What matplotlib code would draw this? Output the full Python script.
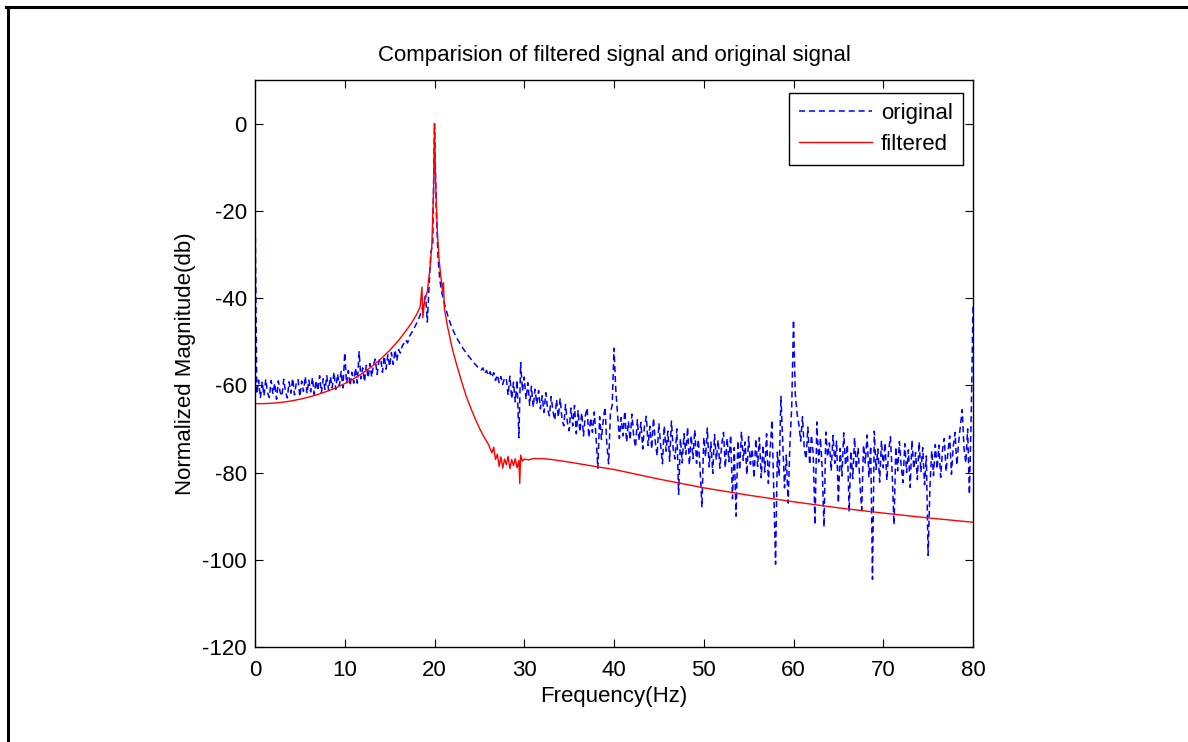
import matplotlib.pyplot as plt
import numpy as np
from matplotlib.lines import Line2D

plt.rcParams["font.family"] = ["Liberation Sans", "DejaVu Sans"]
plt.rcParams["axes.unicode_minus"] = False

title = "Comparision of filtered signal and original signal"
x_label = "Frequency(Hz)"
y_label = "Normalized Magnitude(db)"
x_ticks = [0, 10, 20, 30, 40, 50, 60, 70, 80]
y_ticks = [-120, -100, -80, -60, -40, -20, 0]

# original spectrum, every 0.2 Hz (0 .. 80 Hz)
orig_freq = np.linspace(0, 80, 401)
orig_db = [
    # 0.0 - 3.8
    -17.0, -62.0, -58.8, -62.9, -59.3, -62.4, -58.6, -61.7, -62.8, -58.9,
    -62.0, -59.5, -63.2, -59.0, -61.6, -62.5, -58.6, -61.5, -62.9, -59.2,
    # 4.0 - 7.8
    -61.8, -58.4, -62.2, -59.5, -58.7, -62.6, -59.0, -61.4, -58.0, -61.9,
    -58.8, -61.5, -58.2, -62.1, -58.9, -61.2, -57.8, -61.7, -58.5, -61.0,
    # 8.0 - 11.8
    -57.8, -61.2, -58.0, -60.6, -57.0, -60.9, -57.4, -60.1, -56.8, -60.6,
    -52.5, -59.6, -56.6, -60.1, -57.0, -59.5, -56.0, -59.5, -52.3, -58.5,
    # 12.0 - 15.8
    -56.0, -59.2, -55.4, -58.3, -55.0, -58.1, -55.2, -54.0, -57.5, -54.5,
    -53.8, -57.0, -53.3, -56.3, -53.0, -55.7, -52.5, -55.2, -51.9, -54.4,
    # 16.0 - 19.8
    -51.8, -52.6, -51.0, -50.4, -49.6, -50.3, -48.8, -48.1, -47.5, -46.6,
    -45.8, -44.9, -43.9, -42.6, -41.2, -39.5, -45.5, -37.0, -29.5, -27.5,
    # 20.0 - 23.8
    0.0, -20.0, -31.0, -36.0, -38.5, -40.5, -42.0, -43.5, -44.8, -46.0,
    -47.0, -48.0, -48.8, -49.6, -50.3, -51.0, -51.6, -52.2, -52.8, -53.3,
    # 24.0 - 27.8
    -53.8, -54.4, -54.9, -55.3, -55.8, -56.2, -56.5, -56.0, -57.3, -56.6,
    -57.8, -56.9, -58.2, -57.1, -58.9, -57.6, -59.4, -58.0, -59.8, -58.3,
    # 28.0 - 31.8
    -58.4, -62.3, -57.9, -63.1, -59.3, -63.8, -58.8, -72.0, -54.8, -61.3,
    -58.1, -63.2, -59.4, -64.6, -60.2, -65.0, -60.9, -64.3, -61.2, -65.4,
    # 32.0 - 35.8
    -62.4, -66.2, -61.7, -65.4, -67.0, -62.6, -66.0, -68.0, -63.3, -67.3,
    -63.0, -67.7, -69.3, -64.4, -68.4, -70.4, -65.2, -69.3, -64.6, -71.1,
    # 36.0 - 39.8
    -65.8, -70.7, -66.3, -71.6, -67.0, -65.2, -72.0, -67.5, -70.8, -66.1,
    -71.9, -79.0, -67.2, -72.4, -68.0, -65.0, -73.5, -78.0, -66.3, -64.5,
    # 40.0 - 43.8
    -51.5, -61.0, -66.8, -72.2, -67.4, -71.6, -65.9, -73.0, -68.3, -72.5,
    -66.6, -71.8, -74.2, -67.9, -72.7, -68.5, -74.6, -69.2, -67.1, -73.8,
    # 44.0 - 47.8
    -69.4, -74.6, -67.5, -72.9, -76.2, -68.7, -73.8, -78.0, -69.3, -75.1,
    -70.5, -77.4, -68.2, -74.8, -76.9, -70.0, -85.0, -72.2, -77.8, -71.1,
    # 48.0 - 51.8
    -75.8, -69.6, -78.3, -71.5, -76.8, -70.2, -77.9, -72.4, -79.6, -88.0,
    -71.9, -76.4, -69.8, -78.7, -73.0, -80.2, -71.3, -77.1, -72.5, -79.0,
    # 52.0 - 55.8
    -73.6, -70.8, -78.9, -72.1, -77.5, -71.4, -86.0, -74.3, -90.0, -72.7,
    -79.4, -70.6, -77.2, -73.0, -80.5, -71.8, -78.1, -74.6, -81.3, -72.3,
    # 56.0 - 59.8
    -78.6, -72.0, -81.2, -73.7, -79.9, -71.1, -82.5, -74.8, -68.0, -84.0,
    -101.0, -75.3, -80.8, -62.5, -72.9, -83.5, -76.0, -87.0, -73.5, -65.0,
    # 60.0 - 63.8
    -45.0, -62.0, -66.5, -69.0, -72.8, -67.2, -74.5, -76.9, -69.6, -78.2,
    -71.4, -75.8, -92.0, -68.4, -77.6, -72.1, -79.3, -92.5, -70.7, -76.4,
    # 64.0 - 67.8
    -73.2, -79.6, -71.5, -77.9, -72.8, -87.0, -74.5, -80.8, -70.9, -78.4,
    -73.6, -89.0, -75.1, -81.4, -72.0, -79.2, -74.3, -82.6, -88.5, -73.7,
    # 68.0 - 71.8
    -77.8, -71.4, -81.1, -73.9, -104.5, -70.5, -79.3, -74.6, -82.2, -72.7,
    -78.9, -73.2, -81.8, -75.0, -71.8, -80.4, -92.0, -74.1, -79.6, -72.9,
    # 72.0 - 75.8
    -78.5, -82.3, -73.4, -80.0, -74.8, -83.4, -72.6, -79.1, -75.4, -81.6,
    -73.0, -79.9, -74.3, -82.8, -76.2, -99.0, -83.5, -75.0, -80.7, -73.6,
    # 76.0 - 79.8
    -79.2, -73.7, -81.1, -74.9, -72.2, -79.8, -75.5, -71.6, -80.4, -74.0,
    -70.8, -78.3, -73.1, -69.2, -65.6, -74.5, -77.8, -70.0, -85.0, -67.0,
    # 80.0
    -42.0,
]

# filtered spectrum
filt_freq = [
    0, 1, 2, 3, 4, 5, 6, 7, 8, 9, 10, 11, 12, 13, 14, 15, 16, 17, 17.5, 18,
    18.4, 18.6, 18.7, 18.9, 19.2, 19.5, 19.7, 19.9, 20.0, 20.1, 20.3, 20.5,
    20.7, 20.9, 21.0, 21.1, 21.5, 22, 22.5, 23, 23.5, 24, 24.5, 25, 25.5, 26,
    26.4, 26.6, 26.8, 27.0, 27.2, 27.4, 27.6, 27.8, 28.0, 28.2, 28.4, 28.6,
    28.8, 29.0, 29.2, 29.4, 29.5, 29.6, 29.8, 30.0, 30.5, 31, 32, 33, 34, 35,
    37, 40, 45, 50, 55, 60, 65, 70, 75, 80,
]
filt_db = [
    -64.2, -64.2, -64.1, -63.9, -63.6, -63.2, -62.7, -62.1, -61.4, -60.6,
    -59.6, -58.5, -57.2, -55.7, -54.0, -52.0, -49.7, -47.0, -45.5, -43.8,
    -42.0, -37.5, -44.5, -40.5, -38.5, -33.0, -28.0, -15.0, 0.0, -12.0,
    -24.0, -31.0, -35.0, -38.5, -36.5, -42.5, -47.0, -51.8, -55.5, -59.0,
    -62.3, -65.0, -67.5, -69.8, -71.8, -73.5,
    -75.5, -74.2, -77.0, -75.8, -78.6, -76.4, -79.0, -76.9, -78.2, -76.3,
    -79.1, -77.0, -78.4, -76.8, -78.9, -77.2, -82.5, -76.0, -77.4, -76.9,
    -77.1, -76.8, -76.8, -77.0, -77.3, -77.6,
    -78.3, -79.3, -81.5, -83.5, -85.2, -86.7, -88.1, -89.3, -90.4, -91.4,
]

fig = plt.figure(figsize=(11.88, 7.42), dpi=100)
ax = fig.add_axes([255 / 1188, 1 - 647 / 742, 718 / 1188, 567 / 742])

ax.plot(orig_freq, orig_db, color="blue", lw=1.1, linestyle=(0, (4, 2.5)),
        label="original")
ax.plot(filt_freq, filt_db, color="red", lw=1.0, label="filtered")

ax.set_xlim(0, 80)
ax.set_ylim(-120, 10)
ax.set_xticks(x_ticks)
ax.set_yticks(y_ticks)
ax.tick_params(direction="in", length=6, width=0.8, top=True, right=True,
               labelsize=16, colors="black")
ax.tick_params(axis="x", pad=9)
ax.tick_params(axis="y", pad=6)
for s in ax.spines.values():
    s.set_linewidth(1.0)

ax.set_title(title, fontsize=16, pad=14)
ax.set_xlabel(x_label, fontsize=16, labelpad=4)
ax.set_ylabel(y_label, fontsize=16, labelpad=4)

leg = ax.legend(loc="upper right", bbox_to_anchor=(963 / 1188, 1 - 93 / 742),
                bbox_transform=fig.transFigure, borderaxespad=0,
                fontsize=16, fancybox=False, framealpha=1, edgecolor="black",
                handlelength=3.3, handletextpad=0.4, labelspacing=0.45,
                borderpad=0.45)
leg.get_frame().set_linewidth(1.0)

# border of the exported figure
fig.add_artist(Line2D([7.5 / 1188, 7.5 / 1188], [0, 1 - 6.5 / 742],
                      transform=fig.transFigure, color="black", lw=2.2))
fig.add_artist(Line2D([6 / 1188, 1], [1 - 6.5 / 742, 1 - 6.5 / 742],
                      transform=fig.transFigure, color="black", lw=2.2))

fig.savefig("out.png", dpi=100)
